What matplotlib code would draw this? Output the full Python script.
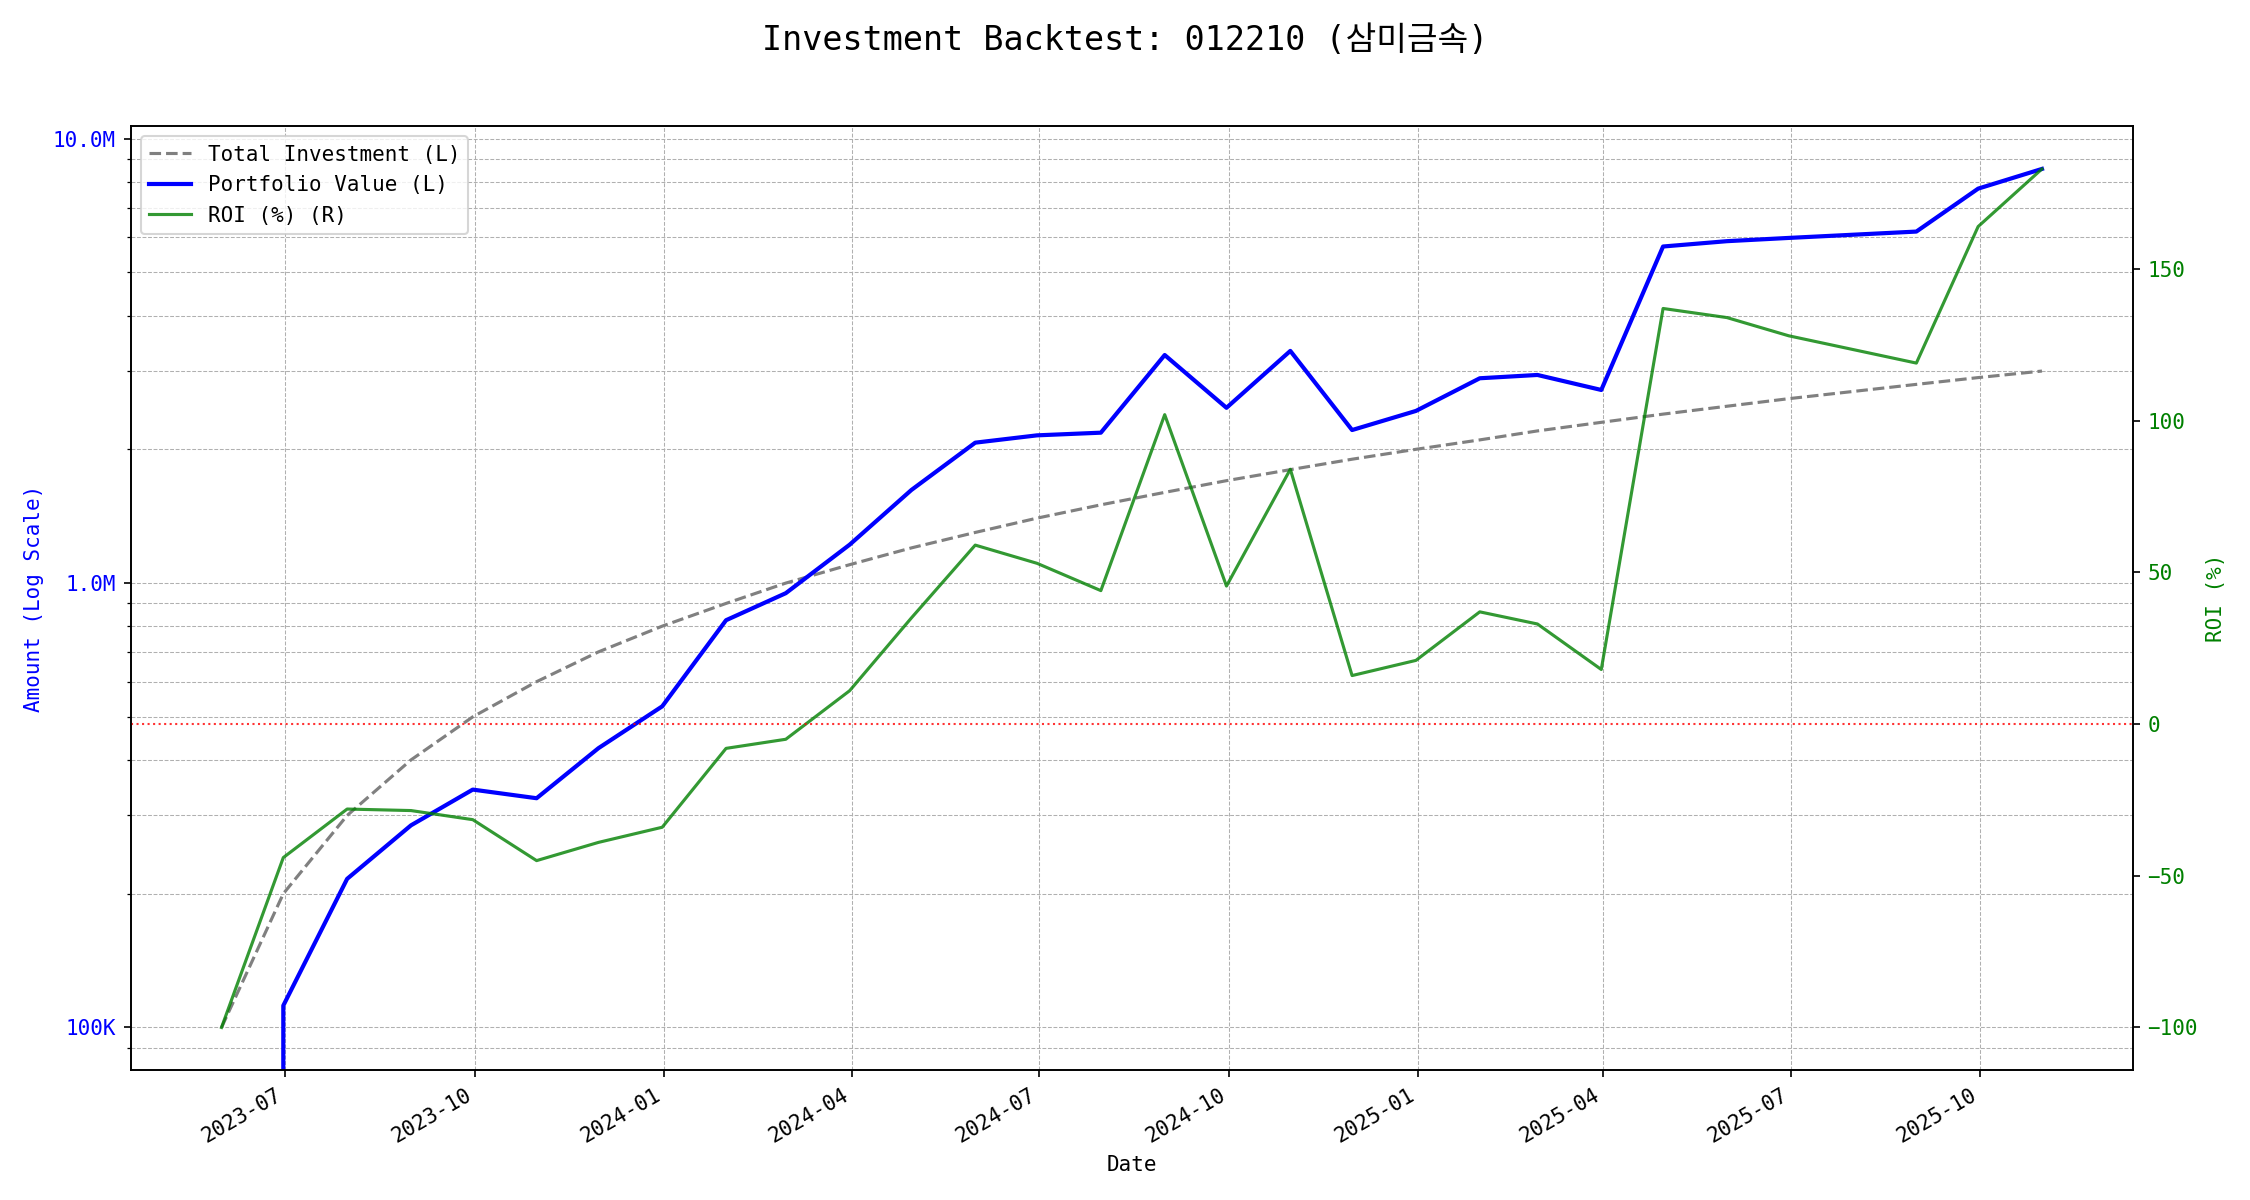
import pandas as pd
import matplotlib
matplotlib.use("Agg")
import matplotlib.pyplot as plt
import matplotlib.dates as mdates
from matplotlib.ticker import FuncFormatter

plt.rcParams['font.family'] = ['DejaVu Sans Mono', 'Noto Sans CJK KR']

# month-end dates (2025-07 missing in the data)
dates = ['2023-05-31', '2023-06-30', '2023-07-31', '2023-08-31', '2023-09-30',
         '2023-10-31', '2023-11-30', '2023-12-31', '2024-01-31', '2024-02-29',
         '2024-03-31', '2024-04-30', '2024-05-31', '2024-06-30', '2024-07-31',
         '2024-08-31', '2024-09-30', '2024-10-31', '2024-11-30', '2024-12-31',
         '2025-01-31', '2025-02-28', '2025-03-31', '2025-04-30', '2025-05-31',
         '2025-06-30', '2025-08-31', '2025-09-30', '2025-10-31']

total_investment = [100e3, 200e3, 300e3, 400e3, 500e3, 600e3, 700e3, 800e3, 900e3, 1.0e6,
                    1.1e6, 1.2e6, 1.3e6, 1.4e6, 1.5e6, 1.6e6, 1.7e6, 1.8e6, 1.9e6, 2.0e6,
                    2.1e6, 2.2e6, 2.3e6, 2.4e6, 2.5e6, 2.6e6, 2.8e6, 2.9e6, 3.0e6]

portfolio_value = [0, 112e3, 216e3, 285e3, 343e3, 328e3, 425e3, 528e3, 825e3, 949e3,
                   1.22e6, 1.62e6, 2.07e6, 2.15e6, 2.18e6, 3.26e6, 2.48e6, 3.33e6, 2.21e6, 2.44e6,
                   2.89e6, 2.94e6, 2.72e6, 5.72e6, 5.88e6, 5.98e6, 6.18e6, 7.72e6, 8.55e6]

roi = [-100, -44, -28, -28.5, -31.5, -45, -39, -34, -8, -5,
       11, 35, 59, 53, 44, 102, 45.5, 84, 16, 21,
       37, 33, 18, 137, 134, 128, 119, 164, 183]

x = pd.to_datetime(dates)

fig, ax1 = plt.subplots(figsize=(15, 8), dpi=150)
fig.subplots_adjust(left=0.058, right=0.948, top=0.895, bottom=0.108)

l1, = ax1.plot(x, total_investment, color='gray', linestyle='--', linewidth=1.5,
               label='Total Investment (L)')
l2, = ax1.plot(x, portfolio_value, color='blue', linewidth=2, label='Portfolio Value (L)')
ax1.set_yscale('log')
ax1.set_xlabel('Date')
ax1.set_ylabel('Amount (Log Scale)', color='blue')
ax1.tick_params(axis='y', labelcolor='blue')


def fmt_amount(v, pos):
    if v >= 1e6:
        return f'{v / 1e6:.1f}M'
    return f'{v / 1e3:.0f}K'


ax1.yaxis.set_major_formatter(FuncFormatter(fmt_amount))
ax1.grid(True, which='both', linestyle='--', linewidth=0.5, color='#b0b0b0')

ax2 = ax1.twinx()
l3, = ax2.plot(x, roi, color='green', alpha=0.8, linewidth=1.5, label='ROI (%) (R)')
ax2.axhline(0, color='red', linestyle=':', linewidth=1, alpha=0.8)
ax2.set_ylabel('ROI (%)', color='green')
ax2.tick_params(axis='y', labelcolor='green')

ax1.xaxis.set_major_locator(mdates.MonthLocator(bymonth=[1, 4, 7, 10]))
ax1.xaxis.set_major_formatter(mdates.DateFormatter('%Y-%m'))
for lab in ax1.get_xticklabels():
    lab.set_rotation(30)
    lab.set_ha('right')

ax1.legend(handles=[l1, l2, l3], loc='upper left')
fig.suptitle('Investment Backtest: 012210 (삼미금속)', fontsize=16)

fig.savefig('out.png', dpi=150)
